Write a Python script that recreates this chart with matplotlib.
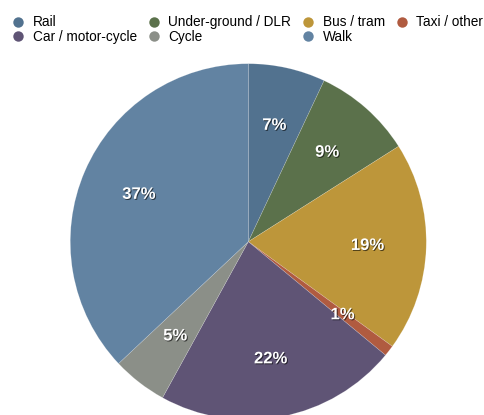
import matplotlib.pyplot as plt
import matplotlib.patheffects as pe
from matplotlib.lines import Line2D

plt.rcParams['font.family'] = ['Liberation Sans', 'DejaVu Sans']

modes = ['Rail', 'Under-ground / DLR', 'Bus / tram', 'Taxi / other',
         'Car / motor-cycle', 'Cycle', 'Walk']
shares = [7, 9, 19, 1, 22, 5, 37]
colors = ['#52728f', '#5b714b', '#bd963a', '#b05b40', '#5f5475', '#8b8f88', '#6283a2']

fig = plt.figure(figsize=(4.84, 4.15), dpi=100)

# pie centre ~ (248, 242) px from top-left, radius ~178 px
r = 178
cx, cy = 248.3, 415 - 241.7
ax = fig.add_axes([(cx - r) / 484, (cy - r) / 415, 2 * r / 484, 2 * r / 415])

wedges, texts, autotexts = ax.pie(
    shares, colors=colors, startangle=90, counterclock=False,
    autopct=lambda p: '%d%%' % round(p), pctdistance=0.67,
    wedgeprops=dict(linewidth=0.4, edgecolor='#ffffff40'))
for t in autotexts:
    t.set_color('white')
    t.set_fontsize(12)
    t.set_fontweight('bold')
    t.set_path_effects([pe.withSimplePatchShadow(offset=(0.7, -0.7), shadow_rgbFace='black', alpha=0.6)])
ax.set_xlim(-1, 1)
ax.set_ylim(-1, 1)
ax.set_aspect('equal')
ax.axis('off')

# legend, filled column by column
order = [0, 4, 1, 5, 2, 6, 3]
handles = [Line2D([], [], marker='o', linestyle='none', markersize=7.5,
                  markerfacecolor=colors[i], markeredgecolor='none') for i in order]
labels = [modes[i] for i in order]
fig.legend(handles, labels, ncol=4, loc='upper left', bbox_to_anchor=(0.026, 0.963),
           frameon=False, fontsize=9.8, handlelength=0.8, handletextpad=0.67,
           columnspacing=0.85, labelspacing=0.05, borderpad=0, borderaxespad=0)

fig.savefig('out.png', dpi=100)
